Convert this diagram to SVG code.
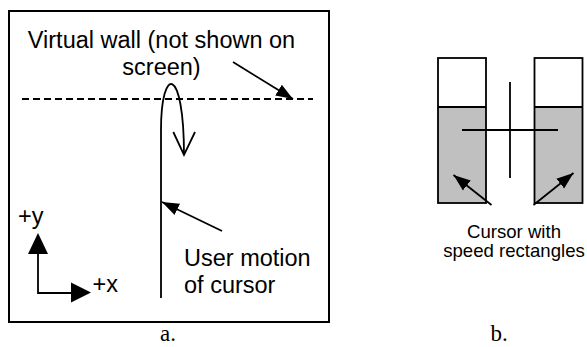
<svg xmlns="http://www.w3.org/2000/svg" width="587" height="347" viewBox="0 0 587 347">
<style>
.t{font-family:"Liberation Sans",Arial,sans-serif;fill:#000}
.big{font-size:23.5px}
.sm{font-size:18.6px}
.cap{font-family:"Liberation Serif","Times New Roman",serif;font-size:23px;fill:#000}
.ln{stroke:#000;fill:none;stroke-width:1.8}
</style>
<defs>
<marker id="ah" viewBox="0 0 10 10" refX="10" refY="5" markerWidth="17" markerHeight="17" markerUnits="userSpaceOnUse" orient="auto"><path d="M0,1.3 L10,5 L0,8.7 Z" fill="#000"/></marker>
</defs>
<g id="panel-a">
<rect x="9" y="11" width="320" height="311" fill="#fff" stroke="#000" stroke-width="2"/>
</g>
<g id="wall">
<line x1="22" y1="99" x2="313" y2="99" class="ln" stroke-dasharray="7,4"/>
<text class="t big" x="161.5" y="48" text-anchor="middle">Virtual wall (not shown on</text>
<text class="t big" x="161.5" y="75" text-anchor="middle">screen)</text>
</g>
<g id="cursor-path">
<path class="ln" d="M161,298 V130 C161,65 184,65 184,155"/>
<path class="ln" d="M173.3,132 L184,155 L195,132"/>
</g>
<g id="motion-label">
<text class="t big" x="184" y="266">User motion</text>
<text class="t big" x="184" y="293">of cursor</text>
</g>
<g id="axes">
<path class="ln" d="M38,253 V293 H72"/>
<path d="M38,233 L48,254 L28,254 Z" fill="#000"/>
<path d="M91,292.5 L71,282.5 L71,302.5 Z" fill="#000"/>
<text class="t big" x="18" y="224">+y</text>
<text class="t big" x="92.5" y="292">+x</text>
</g>
<g id="panel-b">
<rect x="438" y="107" width="48" height="96" fill="#c0c0c0"/>
<rect x="534.5" y="107" width="48" height="96" fill="#c0c0c0"/>
<rect x="438" y="58" width="48" height="145" fill="none" stroke="#000" stroke-width="1.8"/>
<line x1="438" y1="107" x2="486" y2="107" class="ln"/>
<rect x="534.5" y="58" width="48" height="145" fill="none" stroke="#000" stroke-width="1.8"/>
<line x1="534.5" y1="107" x2="582.5" y2="107" class="ln"/>
</g>
<g id="cursor">
<line x1="510" y1="82" x2="510" y2="178" class="ln"/>
<line x1="462" y1="130" x2="558" y2="130" class="ln"/>
</g>
<g id="connectors">
<line x1="233" y1="62" x2="293" y2="99" class="ln" marker-end="url(#ah)"/>
<line x1="222" y1="231" x2="162" y2="202" class="ln" marker-end="url(#ah)"/>
<line x1="491.5" y1="205" x2="453.5" y2="175" class="ln" marker-end="url(#ah)"/>
<line x1="533.5" y1="205" x2="573.5" y2="173" class="ln" marker-end="url(#ah)"/>
</g>
<g id="label-b">
<text class="t sm" x="514" y="238" text-anchor="middle">Cursor with</text>
<text class="t sm" x="514" y="257" text-anchor="middle">speed rectangles</text>
</g>
<g id="captions">
<text class="cap" x="168" y="341" text-anchor="middle">a.</text>
<text class="cap" x="499" y="341" text-anchor="middle">b.</text>
</g>
</svg>
